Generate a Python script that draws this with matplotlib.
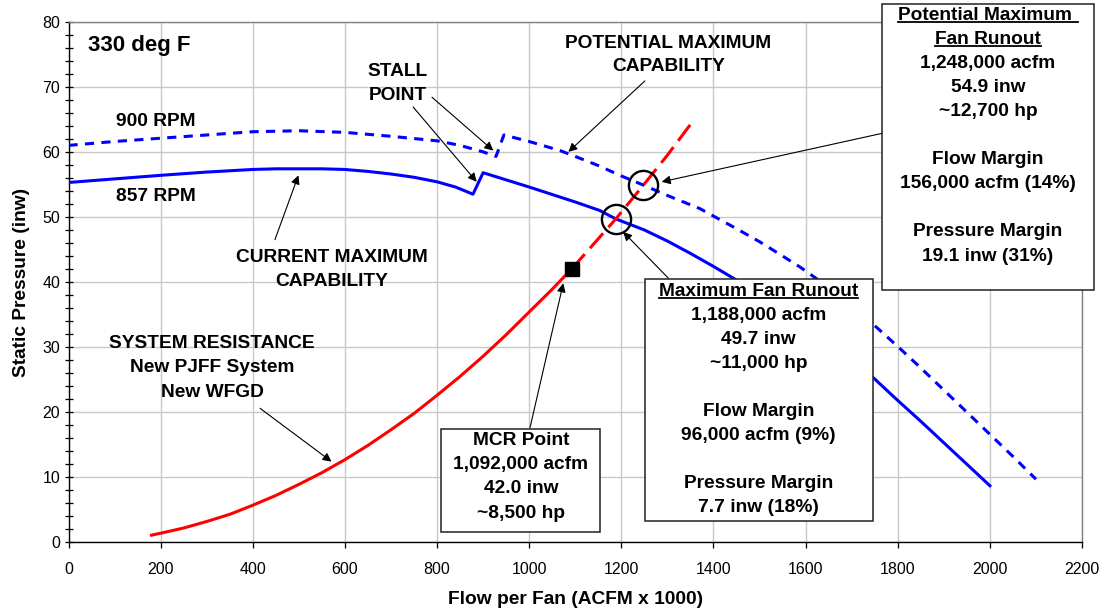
import matplotlib
matplotlib.use("Agg")
import matplotlib.pyplot as plt
from matplotlib.patches import Rectangle
from matplotlib.lines import Line2D
from matplotlib.transforms import IdentityTransform

plt.rcParams['font.family'] = ['Liberation Sans', 'DejaVu Sans']

# ---------------- data ----------------
rpm857_flow = [0, 100, 200, 300, 400, 450, 500, 550, 600, 650, 700, 750, 800, 840, 878,
               900, 1000, 1100, 1153, 1188, 1250, 1300, 1350, 1400, 1450, 1500, 1550,
               1600, 1650, 1700, 1750, 1800, 1850, 1900, 1950, 2000]
rpm857_sp = [55.3, 55.85, 56.4, 56.9, 57.3, 57.4, 57.4, 57.4, 57.3, 57.0, 56.6, 56.1, 55.4, 54.6, 53.5,
             56.8, 54.6, 52.3, 51.0, 49.7, 48.0, 46.3, 44.4, 42.4, 40.3, 38.0, 35.7,
             33.2, 30.7, 28.0, 25.1, 21.8, 18.6, 15.3, 12.0, 8.7]

rpm900_flow = [0, 100, 200, 300, 400, 500, 600, 700, 800, 850, 900, 928, 945, 1000, 1067,
               1100, 1150, 1200, 1248, 1300, 1370, 1450, 1500, 1550, 1588, 1650, 1700,
               1750, 1800, 1850, 1900, 1950, 2000, 2050, 2100]
rpm900_sp = [61.0, 61.6, 62.1, 62.6, 63.1, 63.25, 63.0, 62.4, 61.7, 61.0, 60.0, 59.3, 62.6, 61.6, 60.2,
             59.3, 57.9, 56.3, 54.9, 53.3, 51.3, 48.2, 46.2, 44.0, 42.3, 39.2, 36.4,
             33.3, 30.1, 26.8, 23.4, 20.0, 16.6, 13.2, 9.7]

sys_flow = [180, 200, 250, 300, 350, 400, 450, 500, 550, 600, 650, 700, 750, 800, 850,
            900, 950, 1000, 1050, 1092]
sys_sp = [1.1, 1.4, 2.2, 3.2, 4.3, 5.7, 7.2, 8.9, 10.7, 12.7, 14.9, 17.3, 19.8, 22.6, 25.5,
          28.6, 31.9, 35.4, 38.9, 42.0]

sys_ext_flow = [1092, 1188, 1248, 1300, 1352]
sys_ext_sp = [42.0, 49.7, 54.9, 59.5, 64.4]

mcr_point = (1092, 42.0)
runout_flow = [1188, 1248]
runout_sp = [49.7, 54.9]

x_ticks = list(range(0, 2201, 200))
y_ticks = list(range(0, 81, 10))

mcr_lines = ["MCR Point", "1,092,000 acfm", "42.0 inw", "~8,500 hp"]
max_lines = ["Maximum Fan Runout", "1,188,000 acfm", "49.7 inw", "~11,000 hp", "",
             "Flow Margin", "96,000 acfm (9%)", "", "Pressure Margin", "7.7 inw (18%)"]
pot_lines = ["Potential Maximum ", "Fan Runout", "1,248,000 acfm", "54.9 inw", "~12,700 hp", "",
             "Flow Margin", "156,000 acfm (14%)", "", "Pressure Margin", "19.1 inw (31%)"]

# ---------------- figure ----------------
fig = plt.figure(figsize=(11.05, 6.11), dpi=100)
ax = fig.add_axes([0.062, 0.1124, 0.9172, 0.852])
ax.set_xlim(0, 2200)
ax.set_ylim(0, 80)
ax.set_xticks(x_ticks)
ax.set_yticks(y_ticks)
ax.set_yticks(range(0, 81, 2), minor=True)
ax.grid(True, which='major', color='#c8c8c8', lw=1.0, zorder=0)
ax.set_axisbelow(True)
ax.tick_params(axis='x', direction='out', length=4, width=0.9, labelsize=11.5, pad=10, colors='black')
ax.tick_params(axis='y', which='both', direction='inout', length=6, width=0.9, labelsize=11.5, pad=3)
for s in ['left', 'bottom']:
    ax.spines[s].set_color('black')
    ax.spines[s].set_linewidth(1.0)
for s in ['top', 'right']:
    ax.spines[s].set_color('#808080')
    ax.spines[s].set_linewidth(1.0)

ax.set_xlabel('Flow per Fan (ACFM x 1000)', fontsize=13.8, fontweight='bold', labelpad=10)
ax.set_ylabel('Static Pressure (inw)', fontsize=13.8, fontweight='bold', labelpad=9)

LW = 2.2
ax.plot(rpm857_flow, rpm857_sp, color='#0000FF', lw=LW, zorder=3, solid_joinstyle='round')
ax.plot(rpm900_flow, rpm900_sp, color='#0000FF', lw=LW, zorder=3, dashes=(3.0, 2.4),
        dash_capstyle='butt')
ax.plot(sys_flow, sys_sp, color='#FF0000', lw=LW, zorder=3, solid_joinstyle='round')
ax.plot(sys_ext_flow, sys_ext_sp, color='#FF0000', lw=LW, zorder=3, dashes=(6.5, 2.6),
        dash_capstyle='butt')
ax.plot([mcr_point[0]], [mcr_point[1]], marker='s', color='black', markersize=9.5, zorder=5,
        linestyle='none')
ax.plot(runout_flow, runout_sp, marker='o', markerfacecolor='none', markeredgecolor='black',
        markersize=21, markeredgewidth=1.7, linestyle='none', zorder=5)

FS = 13.8
STEP = 3.7


def stack(lines, x, y_first, step=STEP, ha='center', size=FS, underline=(), zorder=7):
    texts = []
    for i, t in enumerate(lines):
        if t == "":
            continue
        tx = ax.text(x, y_first - i * step, t, ha=ha, va='center', fontsize=size,
                     fontweight='bold', zorder=zorder, clip_on=False)
        if i in underline:
            texts.append(tx)
    return texts


def box(x0, x1, y0, y1):
    r = Rectangle((x0, y0), x1 - x0, y1 - y0, facecolor='white', edgecolor='#222222',
                  lw=1.1, zorder=6, clip_on=False)
    ax.add_patch(r)


# free labels
ax.text(42, 76.4, '330 deg F', ha='left', va='center', fontsize=16, fontweight='bold')
ax.text(103, 64.6, '900 RPM', ha='left', va='center', fontsize=FS, fontweight='bold')
ax.text(103, 53.1, '857 RPM', ha='left', va='center', fontsize=FS, fontweight='bold')
stack(['STALL', 'POINT'], 715, 72.3)
stack(['POTENTIAL MAXIMUM', 'CAPABILITY'], 1302, 76.7, step=3.55)
stack(['CURRENT MAXIMUM', 'CAPABILITY'], 572, 43.8)
stack(['SYSTEM RESISTANCE', 'New PJFF System', 'New WFGD'], 311.5, 30.5)

# boxes
box(809, 1154, 1.54, 17.4)
stack(mcr_lines, 981.7, 15.6)
box(1251.4, 1745.6, 3.27, 40.4)
ul1 = stack(max_lines, 1498.4, 38.6, underline=(0,))
box(1766.4, 2226, 38.8, 82.7)
ul2 = stack(pot_lines, 1995.9, 81.0, underline=(0, 1))

# arrows
aprops = dict(arrowstyle='-|>', color='black', lw=0.8, mutation_scale=13,
              shrinkA=0, shrinkB=0)
arrows = [
    ((886, 55.4), (748, 66.9)),     # stall on 857 rpm
    ((922, 60.2), (789, 68.4)),     # stall on 900 rpm
    ((1085, 60.0), (1251, 70.9)),   # potential max capability
    ((499, 56.4), (448, 46.5)),     # current max capability
    ((571, 12.4), (415.7, 20.6)),   # system resistance
    ((1074, 39.8), (1001.7, 17.6)), # MCR point
    ((1204, 47.7), (1302, 40.6)),   # max fan runout
    ((1287.6, 55.4), (1766, 62.85)),# potential max fan runout
]
for tip, start in arrows:
    ax.annotate('', xy=tip, xytext=start, arrowprops=aprops, zorder=8,
                annotation_clip=False)

# underlines
fig.canvas.draw()
renderer = fig.canvas.get_renderer()
for t in ul1 + ul2:
    bb = t.get_window_extent(renderer)
    y = bb.y0 + 2.0
    fig.add_artist(Line2D([bb.x0, bb.x1], [y, y], color='black', lw=1.3,
                          transform=IdentityTransform(), zorder=9))

fig.savefig('out.png', dpi=100)
